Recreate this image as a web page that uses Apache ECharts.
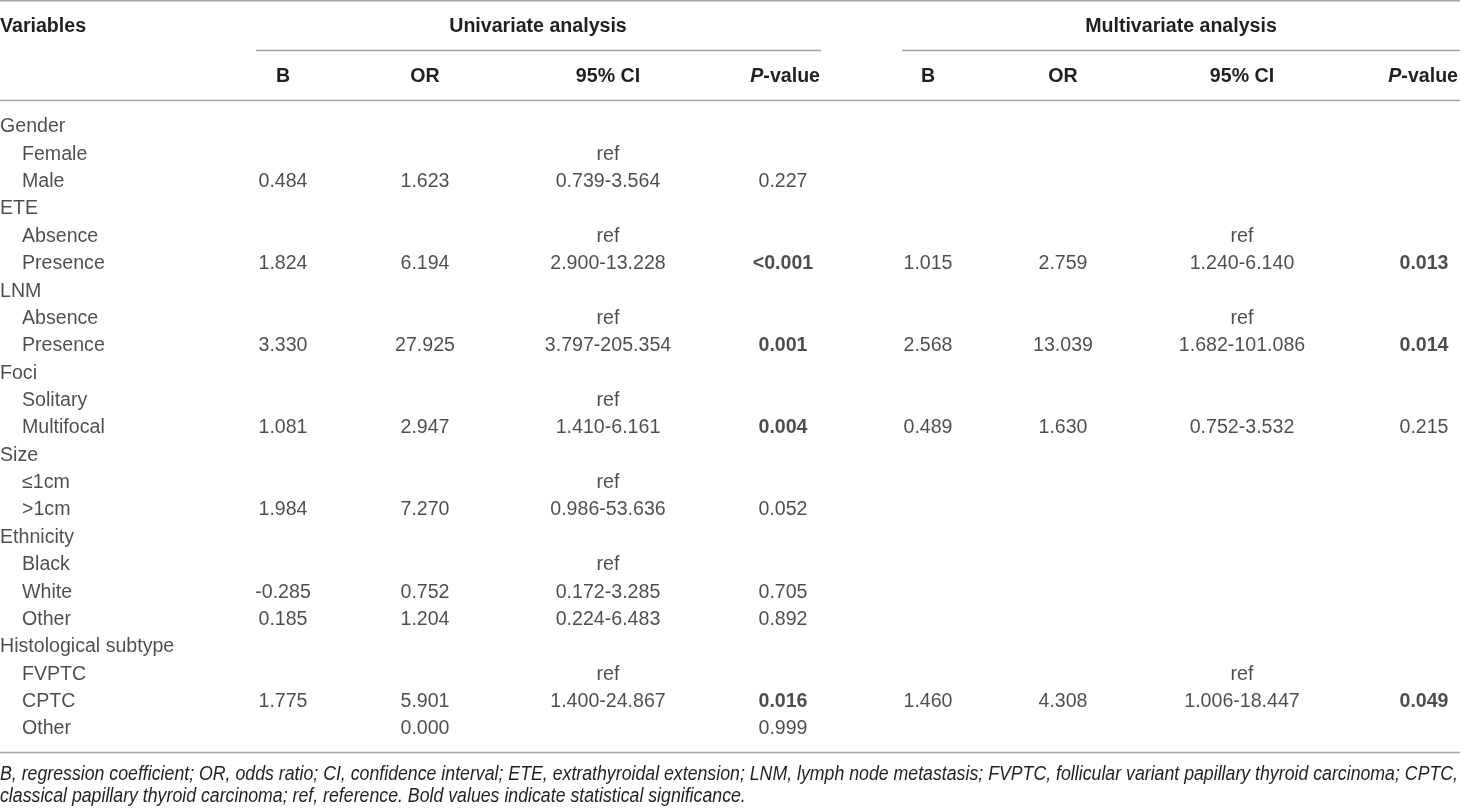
<!DOCTYPE html>
<html>
<head>
<meta charset="utf-8">
<script src="https://cdn.jsdelivr.net/npm/echarts@6/dist/echarts.min.js"></script>
<style>html,body{margin:0;padding:0;background:#fff}#c{width:1460px;height:810px}</style>
</head>
<body>
<div id="c"></div>
<script>
// ---------------- data ----------------
const rowLabels = ['Gender','Female','Male','ETE','Absence','Presence','LNM','Absence','Presence','Foci','Solitary','Multifocal','Size','\u22641cm','>1cm','Ethnicity','Black','White','Other','Histological subtype','FVPTC','CPTC','Other'];
const isGroup  = [1,0,0,1,0,0,1,0,0,1,0,0,1,0,0,1,0,0,0,1,0,0,0];
const uniB   = ['','','0.484','','','1.824','','','3.330','','','1.081','','','1.984','','','-0.285','0.185','','','1.775',''];
const uniOR  = ['','','1.623','','','6.194','','','27.925','','','2.947','','','7.270','','','0.752','1.204','','','5.901','0.000'];
const uniCI  = ['','ref','0.739-3.564','','ref','2.900-13.228','','ref','3.797-205.354','','ref','1.410-6.161','','ref','0.986-53.636','','ref','0.172-3.285','0.224-6.483','','ref','1.400-24.867',''];
const uniP   = ['','','0.227','','','<0.001','','','0.001','','','0.004','','','0.052','','','0.705','0.892','','','0.016','0.999'];
const multiB  = ['','','','','','1.015','','','2.568','','','0.489','','','','','','','','','','1.460',''];
const multiOR = ['','','','','','2.759','','','13.039','','','1.630','','','','','','','','','','4.308',''];
const multiCI = ['','','','','ref','1.240-6.140','','ref','1.682-101.086','','','0.752-3.532','','','','','','','','','ref','1.006-18.447',''];
const multiP  = ['','','','','','0.013','','','0.014','','','0.215','','','','','','','','','','0.049',''];
const groupTitles = ['Univariate analysis','Multivariate analysis'];
const colHeaders = ['B','OR','95% CI','P-value'];
const footnote = [
  'B, regression coefficient; OR, odds ratio; CI, confidence interval; ETE, extrathyroidal extension; LNM, lymph node metastasis; FVPTC, follicular variant papillary thyroid carcinoma; CPTC,',
  'classical papillary thyroid carcinoma; ref, reference. Bold values indicate statistical significance.'
];

// ---------------- layout ----------------
const W = 1460;
const FONT = '"Liberation Sans", Arial, Helvetica, sans-serif';
const FS = 19.6;
const COLOR = '#231f20';
const LINE = '#a3a3a3';
const colX = [283, 425, 608, 783, 928, 1063, 1242, 1424];
const headerRight = [820, 1458];
const rowTop = 113.3, rowH = 27.36;
const columns = [uniB, uniOR, uniCI, uniP, multiB, multiOR, multiCI, multiP];
const isP = [false,false,false,true,false,false,false,true];

function sig(s){ const v = parseFloat(String(s).replace('<','')); return !isNaN(v) && v < 0.05; }

const series = [];
// variable column
series.push({
  type: 'scatter', symbolSize: 0, silent: true, animation: false,
  data: rowLabels.map((t, i) => ({ value: [isGroup[i] ? 0 : 22, i], name: t })),
  label: { show: true, position: 'right', distance: 0, formatter: p => p.name,
           fontFamily: FONT, fontSize: FS, color: COLOR }
});
columns.forEach((col, c) => {
  series.push({
    type: 'scatter', symbolSize: 0, silent: true, animation: false,
    data: col.map((t, i) => t === '' ? null : ({
      value: [colX[c], i], name: t,
      label: { fontWeight: (isP[c] && sig(t)) ? 'bold' : 'normal' }
    })).filter(d => d !== null),
    label: { show: true, position: 'inside', formatter: p => p.name,
             fontFamily: FONT, fontSize: FS, color: COLOR }
  });
});

// footnote scale to fit the line width (condensed look)
const cv = document.createElement('canvas').getContext('2d');
cv.font = 'italic ' + FS + 'px ' + FONT;
const fnScale = 1458 / cv.measureText(footnote[0]).width;

const txt = (text, x, y, align, bold, extra) => Object.assign({
  type: 'text', x: x, y: y, silent: true,
  style: { text: text, fill: COLOR, font: (bold ? 'bold ' : '') + FS + 'px ' + FONT,
           textAlign: align, textVerticalAlign: 'middle' }
}, extra || {});
const hline = (x1, x2, y) => ({ type: 'line', silent: true,
  shape: { x1: x1, y1: y, x2: x2, y2: y }, style: { stroke: LINE, lineWidth: 1.5 } });

const graphic = [
  hline(0, W, 0.75), hline(256, 821, 50.5), hline(902, W, 50.5), hline(0, W, 100.5), hline(0, W, 752.5),
  txt('Variables', 0, 27, 'left', true),
  txt(groupTitles[0], 538, 27, 'center', true),
  txt(groupTitles[1], 1181, 27, 'center', true)
];
[0, 1].forEach(g => {
  for (let k = 0; k < 3; k++) graphic.push(txt(colHeaders[k], colX[g*4+k], 77, 'center', true));
  graphic.push({
    type: 'text', x: headerRight[g], y: 77, silent: true,
    style: { text: '{i|P}{b|' + colHeaders[3].slice(1) + '}', textAlign: 'right', textVerticalAlign: 'middle',
      rich: { i: { fontStyle: 'italic', fontWeight: 'bold', fontSize: FS, fontFamily: FONT, fill: COLOR },
              b: { fontWeight: 'bold', fontSize: FS, fontFamily: FONT, fill: COLOR } } }
  });
});
footnote.forEach((line, k) => {
  graphic.push({
    type: 'text', x: 0, y: 775 + k * 22, scaleX: fnScale, silent: true,
    style: { text: line, fill: COLOR, font: 'italic ' + FS + 'px ' + FONT, textAlign: 'left', textVerticalAlign: 'middle' }
  });
});

const chart = echarts.init(document.getElementById('c'), null, { renderer: 'canvas' });
chart.setOption({
  backgroundColor: '#fff',
  animation: false,
  grid: { left: 0, right: 0, top: rowTop, height: rowH * rowLabels.length, containLabel: false },
  xAxis: { type: 'value', min: 0, max: W, show: false },
  yAxis: { type: 'category', inverse: true, data: rowLabels.map((_, i) => i), show: false },
  series: series,
  graphic: graphic
});
</script>
</body>
</html>
